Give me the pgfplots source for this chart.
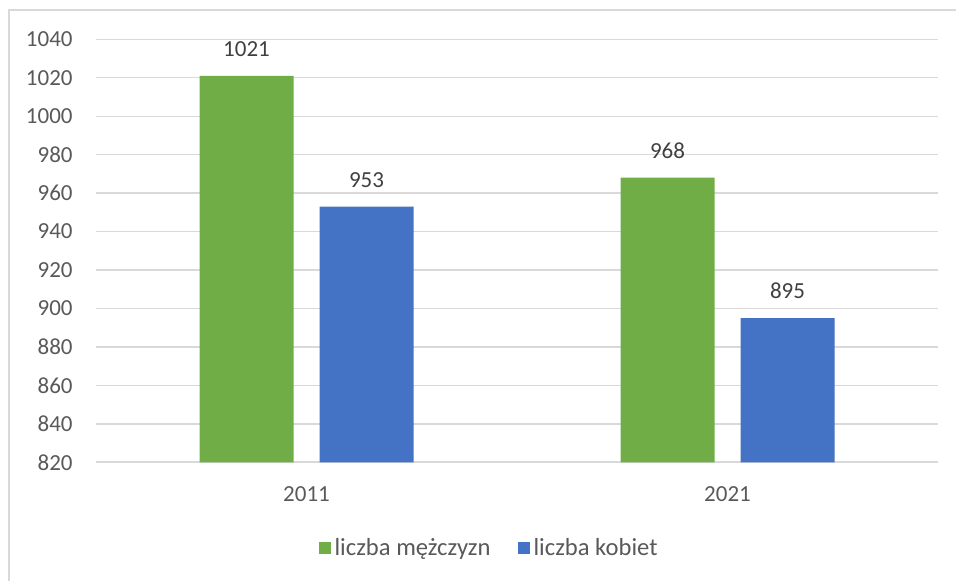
\documentclass[border=0pt]{standalone}
\usepackage{pgfplots}
\pgfplotsset{compat=1.18}
\usepackage{fontspec}
\setmainfont{Carlito}
\definecolor{cgreen}{HTML}{70AD47}
\definecolor{cblue}{HTML}{4472C4}
\definecolor{cgrid}{HTML}{D9D9D9}
\definecolor{ctext}{HTML}{595959}
\definecolor{cval}{HTML}{404040}
\begin{document}
\begin{tikzpicture}
\useasboundingbox (-48pt,-59.35pt) rectangle (430pt,231.15pt);
\draw[cgrid, line width=0.8pt] (-43.6pt,-59.35pt) -- (-43.6pt,226.15pt) -- (430pt,226.15pt);
\begin{axis}[
    at={(0,0)}, anchor=south west,
    scale only axis,
    width=421pt, height=211.5pt,
    ybar=13pt, bar width=47pt,
    xmin=-0.5, xmax=1.5,
    ymin=820, ymax=1040,
    xtick=data, xticklabels={2011,2021},
    ytick={820,840,...,1040},
    axis x line*=bottom, axis y line*=left,
    x axis line style={cgrid, line width=0.9pt, -},
    y axis line style={draw=none},
    ymajorgrids=true,
    grid style={cgrid, line width=0.7pt},
    major tick length=0pt,
    /pgf/number format/assume math mode=true,
    /pgf/number format/1000 sep={},
    tick label style={font=\fontsize{11.5}{14}\selectfont, color=ctext, inner sep=0pt},
    yticklabel style={anchor=east, xshift=-11.5pt},
    xticklabel style={anchor=base, yshift=-19.85pt},
    nodes near coords,
    nodes near coords style={font=\fontsize{11.5}{14}\selectfont, color=cval, anchor=base, inner sep=0pt, yshift=9.7pt, /pgf/number format/1000 sep={}},
    legend style={at={(axis description cs:0.468,-0.2026)}, anchor=center, draw=none,
        legend columns=2, font=\fontsize{12.3}{15}\selectfont, text=ctext,
        /tikz/every even column/.append style={column sep=11.5pt}},
    legend image code/.code={\fill[#1] (0pt,-3pt) rectangle (6pt,3pt);},
    legend cell align=left,
]
\addplot[fill=cgreen, draw=none] coordinates {(0,1021) (1,968)};
\addlegendentry{liczba mężczyzn}
\addplot[fill=cblue, draw=none] coordinates {(0,953) (1,895)};
\addlegendentry{liczba kobiet}
\end{axis}
\end{tikzpicture}
\end{document}
